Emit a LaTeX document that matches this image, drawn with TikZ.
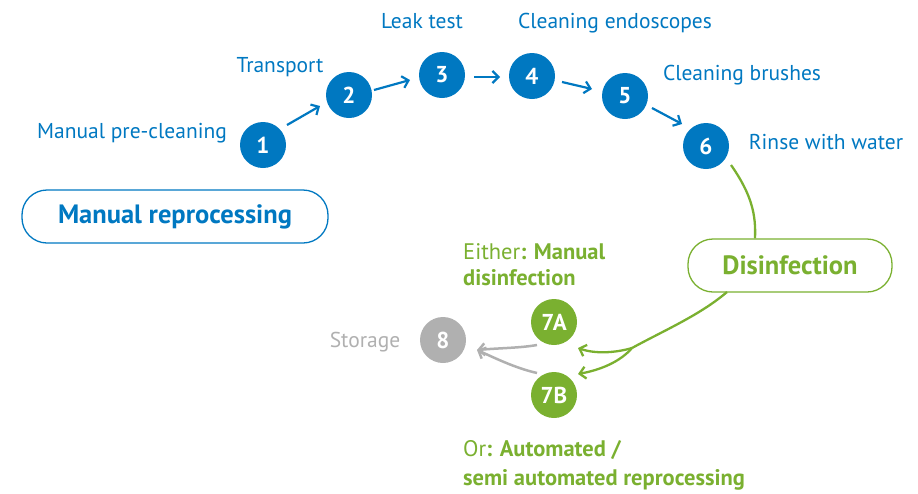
\documentclass[tikz,border=0pt]{standalone}
\usepackage{fontspec}
\setmainfont{PT Sans}
\usetikzlibrary{arrows.meta}
\definecolor{cblue}{RGB}{0,120,193}
\definecolor{cgreen}{RGB}{122,176,48}
\definecolor{cgray}{RGB}{176,176,176}
\tikzset{
  num/.style={circle,fill=#1,text=white,minimum size=46pt,inner sep=0pt,font=\fontsize{23}{23}\selectfont\bfseries},
  lbl/.style={text=#1,font=\fontsize{21.5}{21.5}\selectfont,inner sep=0pt},
  pill/.style={draw=#1,line width=1.3pt,rounded corners=25pt,text=#1,font=\fontsize{26.5}{26.5}\selectfont\bfseries,inner sep=0pt},
  barr/.style={draw=cblue,line width=2.2pt,-{Straight Barb[length=6pt,width=12pt,line width=2.2pt]}},
  garr/.style={draw=cgreen,line width=2.3pt,-{Straight Barb[length=6pt,width=12pt,line width=2.3pt]}},
  grarr/.style={draw=cgray,line width=2.5pt,-{Straight Barb[length=6pt,width=12pt,line width=2.5pt]}},
}
\begin{document}
\begin{tikzpicture}[x=1pt,y=-1pt]
\useasboundingbox (0,0) rectangle (918,493);
\node[num=cblue] (n1) at (263,145) {1};
\node[num=cblue] (n2) at (349,95) {2};
\node[num=cblue] (n3) at (442,75) {3};
\node[num=cblue] (n4) at (532,76) {4};
\node[num=cblue] (n5) at (625,96) {5};
\node[num=cblue] (n6) at (706,146) {6};
\node[num=cgreen] (n7a) at (554,322) {7A};
\node[num=cgreen] (n7b) at (554,395) {7B};
\node[num=cgray] (n8) at (443,340) {8};

\node[lbl=cblue] (l1) at (132,133) {Manual pre-cleaning};
\node[lbl=cblue] (l2) at (280,67) {Transport};
\node[lbl=cblue] (l3) at (422,21) {Leak test};
\node[lbl=cblue] (l4) at (615,23) {Cleaning endoscopes};
\node[lbl=cblue] (l5) at (742,75) {Cleaning brushes};
\node[lbl=cblue] (l6) at (826,142) {Rinse with water};
\node[lbl=cgray] (l8) at (365,342) {Storage};

\node[pill=cblue,minimum width=306pt,minimum height=53pt] (mr) at (175,216.5) {Manual reprocessing};
\node[pill=cgreen,minimum width=204pt,minimum height=53pt] (dis) at (790,265.5) {Disinfection};

\node[lbl=cgreen,anchor=north west,align=left,font=\fontsize{22.5}{26}\selectfont] (l7a) at (463,243)
  {Either\textbf{: Manual}\\\textbf{disinfection}};
\node[lbl=cgreen,anchor=north west,align=left,font=\fontsize{22.5}{29}\selectfont] (l7b) at (463,440)
  {Or\textbf{: Automated /}\\\textbf{semi automated reprocessing}};

\draw[barr] ([shift={(24,-20)}]n1.center) -- ([shift={(-29,11)}]n2.center);
\draw[barr] ([shift={(25,-5)}]n2.center) -- ([shift={(-32,5)}]n3.center);
\draw[barr] ([shift={(32,2)}]n3.center) -- ([shift={(-32,1)}]n4.center);
\draw[barr] ([shift={(30,6)}]n4.center) -- ([shift={(-33,-7)}]n5.center);
\draw[barr] ([shift={(27,12)}]n5.center) -- ([shift={(-24,-22)}]n6.center);

\coordinate (d6) at ([shift={(25,19)}]n6.center);
\draw[cgreen,line width=2.3pt] (d6) .. controls (752,195) and (756,215) .. (dis.north -| 755,0);
\coordinate (ds) at (727,292);
\coordinate (j) at (632,348);
\draw[cgreen,line width=2.3pt] (ds) .. controls (700,315) and (665,330) .. (j);
\draw[garr] (j) .. controls (615,353) and (595,354) .. ([shift={(24,26)}]n7a.center);
\draw[garr] (j) .. controls (620,362) and (600,370) .. ([shift={(24,-21)}]n7b.center);

\draw[grarr] ([shift={(-17,23)}]n7a.center) .. controls (520,348) and (500,348) .. ([shift={(34,10)}]n8.center);
\draw[grarr] ([shift={(-17,-22)}]n7b.center) .. controls (515,368) and (495,358) .. ([shift={(34,10)}]n8.center);
\end{tikzpicture}
\end{document}
